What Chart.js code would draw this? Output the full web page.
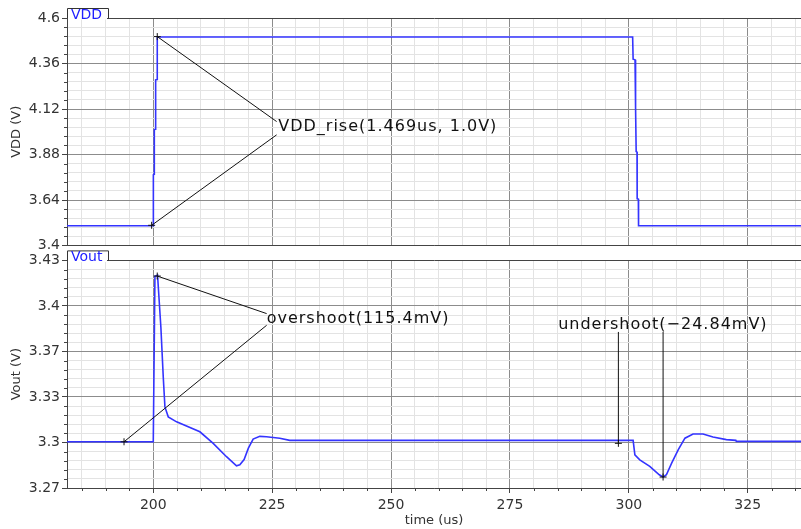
<!DOCTYPE html>
<html>
<head>
<meta charset="utf-8">
<script src="https://cdn.jsdelivr.net/npm/chart.js@4.4.1/dist/chart.umd.min.js"></script>
<style>
  html, body { margin: 0; padding: 0; background: #fff; }
  #wrap { position: relative; width: 801px; height: 529px; overflow: hidden; }
  canvas { position: absolute; left: 0; }
  #vddChart { top: 0; }
  #voutChart { top: 250px; }
</style>
</head>
<body>
<div id="wrap">
  <canvas id="vddChart" width="801" height="256"></canvas>
  <canvas id="voutChart" width="801" height="279"></canvas>
</div>
<script>
// time axis (us)
const timeMin = 181.86;
const timeMax = 336.2;
const timeTicks = [200, 225, 250, 275, 300, 325];
const timeTickLabels = ['200', '225', '250', '275', '300', '325'];

// VDD waveform
const vddTime = [181.86, 200.0, 200.02, 200.2, 200.22, 200.48, 200.5, 200.82, 200.84,
  300.8, 300.9, 301.3, 301.33, 301.5, 301.54, 301.72, 301.75, 302.0, 302.04, 336.2];
const vddVolt = [3.505, 3.505, 3.774, 3.776, 4.011, 4.014, 4.274, 4.276, 4.5,
  4.5, 4.383, 4.38, 4.13, 4.127, 3.896, 3.893, 3.647, 3.645, 3.505, 3.505];
const vddTicks = [3.4, 3.64, 3.88, 4.12, 4.36, 4.6];
const vddTickLabels = ['3.4', '3.64', '3.88', '4.12', '4.36', '4.6'];

// Vout waveform
const voutTime = [181.86, 200.0, 200.35, 200.9, 201.6, 202.1, 202.45, 203.15, 204.9, 209.8,
  212.6, 215.4, 217.5, 218.2, 219.1, 220.0, 221.0, 222.4, 223.8, 226.6, 228.7,
  300.9, 301.27, 302.3, 304.4, 306.4, 307.2, 307.9, 309.0, 310.4, 311.8, 313.5,
  315.6, 317.7, 320.5, 322.5, 322.6, 336.2];
const voutVolt = [3.3025, 3.3025, 3.4188, 3.4196, 3.383, 3.348, 3.327, 3.320, 3.3165, 3.3095,
  3.3014, 3.292, 3.2856, 3.2863, 3.290, 3.298, 3.3044, 3.3063, 3.306, 3.305, 3.3035,
  3.3035, 3.2933, 3.2898, 3.2852, 3.2793, 3.2777, 3.2793, 3.2875, 3.297, 3.305, 3.308,
  3.308, 3.3058, 3.304, 3.3035, 3.3028, 3.3028];
const voutTicks = [3.27, 3.302, 3.334, 3.366, 3.398, 3.43];
const voutTickLabels = ['3.27', '3.3', '3.33', '3.37', '3.4', '3.43'];

// marker annotations: [markerTime, markerVolt, labelTime, labelVolt]
const vddRiseLines = [[199.66, 3.507, 225.94, 3.984], [200.84, 4.502, 225.94, 4.054]];
const overshootLines = [[193.85, 3.3025, 223.84, 3.3844], [200.84, 3.419, 223.84, 3.3926]];
const undershootLines = [[297.8, 3.3014, 297.8, 3.3797], [307.2, 3.2777, 307.2, 3.3797]];
const vddNotes = [{ text: 'VDD_rise(1.469us, 1.0V)', t: 226.28, v: 4.0237 }];
const voutNotes = [
  { text: 'overshoot(115.4mV)', t: 223.84, v: 3.389 },
  { text: 'undershoot(\u221224.84mV)', t: 285.14, v: 3.3844 }
];

const FONT = 'DejaVu Sans';
const TRACE = '#3434ff';

function withMinors(majors, parts) {
  const out = [];
  for (let i = 0; i < majors.length - 1; i++) {
    const step = (majors[i + 1] - majors[i]) / parts;
    for (let k = 0; k < parts; k++) out.push(majors[i] + step * k);
  }
  out.push(majors[majors.length - 1]);
  return out;
}
function majorIndex(v, majors) {
  return majors.findIndex(m => Math.abs(m - v) < 1e-6);
}
function toPoints(ts, vs) {
  return ts.map((t, i) => ({ x: t, y: vs[i] }));
}
function markerSets(lines) {
  return lines.map(l => ({
    data: [{ x: l[0], y: l[1] }, { x: l[2], y: l[3] }],
    borderColor: '#111', borderWidth: 1,
    pointStyle: 'cross', pointRadius: [3.5, 0], pointBorderColor: '#111', pointBorderWidth: 1,
    pointHoverRadius: 0
  }));
}

const timeGrid = [];
for (let t = 185; t <= 335; t += 5) timeGrid.push(t);

const panelDecor = {
  id: 'panelDecor',
  afterDraw(chart, args, opts) {
    const { ctx, chartArea: a, scales } = chart;
    ctx.save();
    // minor tick marks
    ctx.beginPath();
    ctx.strokeStyle = '#444';
    ctx.lineWidth = 1;
    scales.y.ticks.forEach(tk => {
      if (majorIndex(tk.value, opts.yMajors) >= 0) return;
      const y = Math.round(scales.y.getPixelForValue(tk.value)) + 0.5;
      ctx.moveTo(a.left - 3, y); ctx.lineTo(a.left, y);
    });
    if (opts.xMinorTicks) {
      scales.x.ticks.forEach(tk => {
        if (majorIndex(tk.value, timeTicks) >= 0) return;
        const x = Math.round(scales.x.getPixelForValue(tk.value)) + 0.5;
        ctx.moveTo(x, a.bottom); ctx.lineTo(x, a.bottom + 3);
      });
    }
    ctx.stroke();
    // trace name tab
    const tabTop = a.top - 10, tabRight = a.left + 41;
    ctx.fillStyle = '#fff';
    ctx.fillRect(a.left + 1, tabTop + 1, tabRight - a.left - 2, 10.5);
    ctx.beginPath();
    ctx.strokeStyle = '#333';
    ctx.moveTo(a.left + 0.5, a.top);
    ctx.lineTo(a.left + 0.5, tabTop + 0.5);
    ctx.lineTo(tabRight + 0.5, tabTop + 0.5);
    ctx.lineTo(tabRight + 0.5, a.top + 0.5);
    ctx.stroke();
    ctx.fillStyle = '#2020ff';
    ctx.font = '14px "' + FONT + '"';
    ctx.textBaseline = 'alphabetic';
    ctx.fillText(opts.name, a.left + 4, a.top + 1);
    // annotation labels
    ctx.fillStyle = '#111';
    ctx.font = '16px "' + FONT + '"';
    ctx.letterSpacing = '1px';
    ctx.textBaseline = 'middle';
    opts.notes.forEach(n => {
      ctx.fillText(n.text, scales.x.getPixelForValue(n.t), scales.y.getPixelForValue(n.v));
    });
    ctx.restore();
  }
};

function makeChart(id, cfg) {
  const { points, lines, yMin, yMax, yMajors, yLabels, yParts, yTitle, name, notes, bottom } = cfg;
  return new Chart(document.getElementById(id), {
    type: 'line',
    data: {
      datasets: [
        ...markerSets(lines),
        { data: points, borderColor: TRACE, borderWidth: 1.6, pointRadius: 0, tension: 0 }
      ]
    },
    options: {
      responsive: false,
      animation: false,
      events: [],
      layout: { autoPadding: false, padding: { top: bottom ? 10 : 18, right: 0, bottom: 0, left: 0 } },
      plugins: {
        legend: { display: false },
        tooltip: { enabled: false },
        panelDecor: { yMajors, name, notes, xMinorTicks: bottom }
      },
      scales: {
        x: {
          type: 'linear', min: timeMin, max: timeMax,
          afterBuildTicks: s => { s.ticks = timeGrid.map(v => ({ value: v })); },
          afterFit: s => { s.height = bottom ? 41 : 10; },
          ticks: {
            display: bottom, autoSkip: false, maxRotation: 0, padding: 4,
            color: '#333', font: { family: FONT, size: 14 },
            callback: v => { const i = majorIndex(v, timeTicks); return i >= 0 ? timeTickLabels[i] : ''; }
          },
          grid: {
            color: c => majorIndex(c.tick.value, timeTicks) >= 0 ? '#8c8c8c' : '#e3e3e3',
            drawTicks: bottom, tickLength: 5,
            tickColor: c => majorIndex(c.tick.value, timeTicks) >= 0 ? '#444' : 'rgba(0,0,0,0)'
          },
          border: { color: '#444', width: 1 },
          title: {
            display: bottom, text: 'time (us)', color: '#333',
            font: { family: FONT, size: 13 }, padding: { top: 0, bottom: 1 }
          }
        },
        y: {
          type: 'linear', min: yMin, max: yMax,
          afterBuildTicks: s => { s.ticks = withMinors(yMajors, yParts).map(v => ({ value: v })); },
          afterFit: s => { s.width = 67; },
          ticks: {
            autoSkip: false, padding: 2, color: '#333', font: { family: FONT, size: 14 },
            callback: v => { const i = majorIndex(v, yMajors); return i >= 0 ? yLabels[i] : ''; }
          },
          grid: {
            color: c => {
              const i = majorIndex(c.tick.value, yMajors);
              if (i === yMajors.length - 1) return '#444';
              return i >= 0 ? '#8c8c8c' : '#e3e3e3';
            },
            tickLength: 5,
            tickColor: c => majorIndex(c.tick.value, yMajors) >= 0 ? '#444' : 'rgba(0,0,0,0)'
          },
          border: { color: '#444', width: 1 },
          title: {
            display: true, text: yTitle, color: '#333',
            font: { family: FONT, size: 13 }, padding: { top: 9, bottom: 0 }
          }
        }
      }
    },
    plugins: [panelDecor]
  });
}

makeChart('vddChart', {
  points: toPoints(vddTime, vddVolt), lines: vddRiseLines,
  yMin: 3.4, yMax: 4.6, yMajors: vddTicks, yLabels: vddTickLabels, yParts: 5,
  yTitle: 'VDD (V)', name: 'VDD', notes: vddNotes, bottom: false
});
makeChart('voutChart', {
  points: toPoints(voutTime, voutVolt), lines: [...overshootLines, ...undershootLines],
  yMin: 3.27, yMax: 3.43, yMajors: voutTicks, yLabels: voutTickLabels, yParts: 5,
  yTitle: 'Vout (V)', name: 'Vout', notes: voutNotes, bottom: true
});
</script>
</body>
</html>
